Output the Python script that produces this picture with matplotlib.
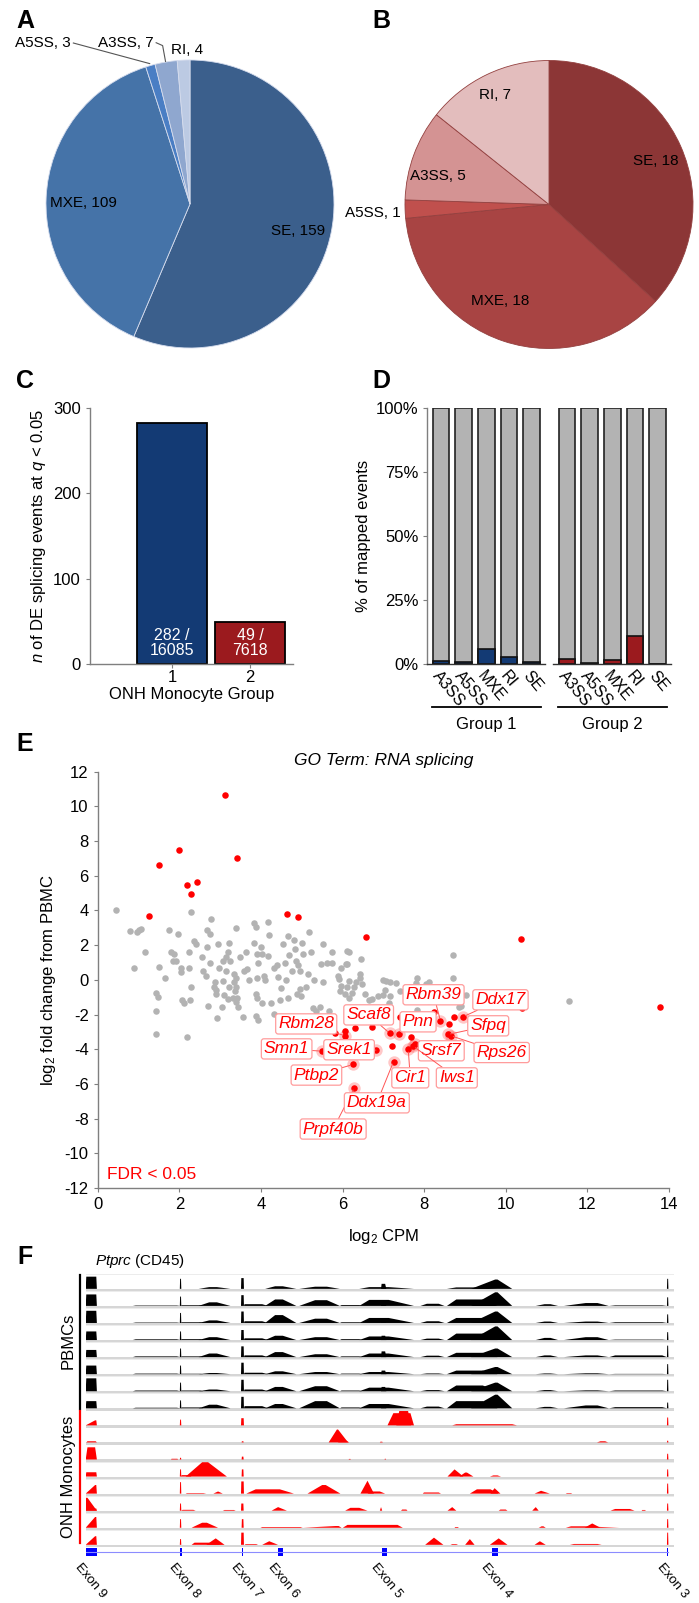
import matplotlib
matplotlib.use("Agg")
import matplotlib.pyplot as plt
from matplotlib.patches import Rectangle

plt.rcParams['font.family'] = ['Liberation Sans', 'DejaVu Sans']
plt.rcParams['mathtext.fontset'] = 'custom'
plt.rcParams['mathtext.rm'] = 'Liberation Sans'
plt.rcParams['mathtext.it'] = 'Liberation Sans:italic'
plt.rcParams['axes.unicode_minus'] = False

# ---- A / B : pie charts of event types ----
event_types = ['SE', 'MXE', 'A5SS', 'A3SS', 'RI']
pie_a_counts = [159, 109, 3, 7, 4]
pie_b_counts = [18, 18, 1, 5, 7]
pie_a_colors = ['#3b5f8c', '#4573a8', '#4a7ec4', '#8fa7cf', '#bccae3']
pie_b_colors = ['#8c3636', '#a84443', '#c0504d', '#d49393', '#e3bdbd']

# ---- C : DE splicing events per group ----
groups = [1, 2]
de_counts = [282, 49]
de_totals = [16085, 7618]
group_colors = ['#133a74', '#9b1a1e']

# ---- D : % of mapped events ----
d_types = ['A3SS', 'A5SS', 'MXE', 'RI', 'SE']
d_group1 = [1.4, 0.9, 6.1, 2.9, 0.9]
d_group2 = [2.1, 0.7, 1.7, 11.1, 0.2]

# ---- E : GO term RNA splicing scatter ----
gray_pts = [
    (0.45, 4.03), (0.80, 2.79), (0.97, 2.73), (1.01, 2.86), (1.05, 2.96), (1.15, 1.58), (0.89, 0.71),
    (1.49, 0.75), (1.64, 0.10), (1.74, 2.90), (1.97, 2.67), (1.80, 1.58), (1.86, 1.48), (1.84, 1.10),
    (1.92, 1.06), (2.04, 0.71), (2.04, 0.48), (2.24, 0.71), (2.28, 3.94), (1.43, -0.77), (1.47, -0.96),
    (1.42, -1.79), (1.43, -3.13), (2.20, -3.27), (2.06, -1.17), (2.12, -1.31), (2.27, -1.17), (2.29, -0.44),
    (2.37, 2.25), (2.41, 2.06), (2.24, 1.58), (2.55, 1.33), (2.59, 0.52), (2.65, 0.23), (2.78, 3.50),
    (2.69, 2.88), (2.76, 2.67), (2.69, 1.90), (2.96, 2.06), (2.76, 0.96), (2.97, 0.71), (3.07, 1.10),
    (3.22, 2.15), (3.19, 1.63), (3.14, 1.33), (3.23, 1.10), (3.15, 0.52), (2.88, -0.15), (2.85, -0.44),
    (2.89, -0.83), (2.91, -0.60), (2.71, -1.50), (2.93, -2.21), (3.08, -0.06), (3.10, -0.88), (3.22, -0.40),
    (3.05, -1.59), (3.20, -1.11), (3.35, 0.33), (3.38, 0.10), (3.34, -0.15), (3.39, -0.40), (3.36, -0.67),
    (3.32, -1.02), (3.42, -1.02), (3.38, -1.25), (3.44, -1.56), (3.40, 2.98), (3.49, 1.33), (3.64, 1.63),
    (3.58, 0.52), (3.66, 0.61), (3.57, -2.17), (3.70, -0.02), (3.82, 3.30), (3.88, 3.07), (3.82, 2.11),
    (3.91, 1.48), (3.93, 1.00), (3.91, 0.13), (3.87, -0.79), (3.91, -1.02), (3.87, -2.09), (3.93, -2.29),
    (3.99, 1.90), (4.03, 1.48), (4.08, 0.23), (4.11, -0.02), (4.03, -1.31), (4.17, 3.36), (4.21, 2.59),
    (4.17, 1.38), (4.25, -1.36), (4.31, -1.98), (4.31, 0.67), (4.39, 0.86), (4.43, 0.17), (4.49, -0.48),
    (4.47, -1.17), (4.53, 2.06), (4.59, 1.00), (4.67, 2.54), (4.69, 1.44), (4.62, -0.02), (4.67, -1.02),
    (4.80, 2.29), (4.84, 1.77), (4.76, 0.52), (4.86, 1.10), (4.92, 0.86), (4.96, 0.52), (5.00, 2.15),
    (5.02, 1.48), (4.96, -0.54), (4.99, -0.92), (4.88, -0.83), (5.10, -0.44), (5.18, 2.73), (5.23, 1.63),
    (5.15, 0.33), (5.31, -0.02), (5.36, -1.79), (5.28, -1.65), (5.45, -1.59), (5.53, 2.06), (5.47, 0.94),
    (5.61, 1.00), (5.53, -0.15), (5.67, -1.79), (5.73, 1.58), (5.75, 1.00), (5.89, 0.23), (5.91, 0.04),
    (5.95, -0.35), (5.93, -0.63), (5.96, 0.71), (6.09, 0.90), (6.12, 1.67), (6.07, -0.83), (6.15, 1.63),
    (6.11, 0.94), (6.45, 1.23), (6.15, -0.06), (6.11, -0.44), (6.27, -0.40), (6.43, 0.33), (6.42, 0.10),
    (6.34, -0.10), (6.48, -0.25), (6.23, -0.73), (6.17, -1.02), (6.56, -0.83), (6.64, -1.17), (6.72, -1.11),
    (6.87, -0.92), (6.99, -0.86), (6.99, -0.02), (7.07, -0.06), (7.16, -0.10), (7.31, -0.21), (7.04, -0.60),
    (7.16, -0.92), (7.15, -1.31), (7.42, -0.63), (7.83, 0.13), (7.81, -0.21), (7.93, -0.40), (8.05, -0.25),
    (8.12, -0.15), (7.83, -1.71), (8.12, -1.21), (8.70, 1.44), (8.70, 0.10), (8.86, -1.59), (8.91, -1.52),
    (9.03, -0.86), (11.54, -1.21),
]
red_pts = [
    (3.12, 10.65), (1.99, 7.49), (1.50, 6.63), (3.41, 7.01), (2.20, 5.48), (2.44, 5.65), (2.29, 4.94),
    (1.25, 3.69), (4.64, 3.82), (4.91, 3.65), (6.58, 2.48), (10.38, 2.38), (13.77, -1.59), (5.81, -3.07),
    (6.05, -2.94), (6.30, -2.79), (6.71, -2.71), (7.42, -2.13), (7.20, -3.82), (7.67, -3.30), (8.23, -1.88),
    (8.60, -2.52), (8.72, -2.17), (10.40, -1.60),
]
gene_names = ['Rbm28', 'Smn1', 'Srek1', 'Ptbp2', 'Prpf40b', 'Ddx19a', 'Scaf8', 'Pnn',
              'Cir1', 'Srsf7', 'Iws1', 'Rbm39', 'Ddx17', 'Sfpq', 'Rps26']
gene_x = [6.07, 5.49, 6.82, 6.26, 6.29, 7.25, 7.16, 7.39, 7.61, 7.78, 7.73, 8.40, 8.95, 8.58, 8.65]
gene_y = [-3.23, -4.11, -4.05, -4.88, -6.21, -4.71, -3.09, -3.13, -4.00, -3.72, -3.82, -2.36, -2.13, -3.15, -3.22]
label_x = [5.11, 4.63, 6.16, 5.36, 5.77, 6.84, 6.64, 7.85, 7.66, 8.42, 8.80, 8.23, 9.87, 9.57, 9.90]
label_y = [-2.54, -3.98, -4.03, -5.49, -8.60, -7.09, -2.02, -2.42, -5.65, -4.09, -5.65, -0.86, -1.15, -2.65, -4.19]

# ---- F : Ptprc coverage tracks (x in % of locus, heights as fraction of track) ----
exon_names = ['Exon 9', 'Exon 8', 'Exon 7', 'Exon 6', 'Exon 5', 'Exon 4', 'Exon 3']
exon_start = [0.0, 16.0, 26.5, 32.7, 50.3, 69.0, 98.8]
exon_end = [1.9, 16.3, 26.8, 33.6, 51.2, 70.0, 99.0]

pbmc_shapes = [
    (0.0, 0.1, 1.8, 1.9), (8.0, 8.5, 15.5, 16.1), (16.0, 16.05, 16.2, 16.25), (16.2, 16.3, 19.5, 20.0),
    (19.2, 21.0, 22.3, 24.6), (26.4, 26.45, 26.85, 26.9), (26.9, 27.0, 30.0, 31.0), (30.5, 32.2, 33.5, 35.8),
    (36.3, 39.0, 41.0, 43.2), (43.2, 43.5, 46.5, 47.0), (46.5, 48.2, 51.5, 55.8), (50.2, 50.3, 50.9, 51.1),
    (56.9, 58.0, 60.0, 61.0), (61.4, 63.0, 67.5, 70.0), (65.5, 69.6, 70.0, 72.5), (76.5, 78.0, 79.0, 80.3),
    (81.3, 85.0, 87.0, 88.9), (89.0, 90.0, 98.0, 98.8), (98.8, 98.85, 99.0, 99.05),
]
pbmc_heights = [
    [.85, 0, .70, 0, .12, .75, 0, .18, .15, 0, .12, .35, 0, .10, .65, 0, 0, 0, .70],
    [.80, .03, .65, .05, .25, .75, .12, .45, .40, .06, .42, .30, .15, .45, .95, .12, .20, .04, .60],
    [.85, .03, .70, .05, .18, .80, .12, .55, .30, .05, .35, .30, .12, .35, .80, .10, .10, .05, .60],
    [.60, .05, .60, .06, .20, .70, .12, .30, .20, .06, .25, .30, .10, .45, .95, .15, .20, .03, .55],
    [.50, .05, .60, .05, .25, .75, .12, .35, .20, .05, .25, .40, .10, .30, .60, .12, .12, .12, .80],
    [.60, .04, .60, .03, .08, .80, .10, .20, .15, .04, .15, .25, .05, .25, .50, .05, .06, .02, .70],
    [.90, .05, .60, .05, .12, .80, .12, .30, .35, .05, .25, .30, .08, .40, .60, .08, .06, .05, .80],
    [.50, .04, .55, .06, .25, .80, .15, .30, .50, .06, .30, .20, .12, .50, .95, .10, .20, .08, .40],
]
mono_tracks = [
    [(0.0, 1.6, 1.8, 1.9, .35), (16.0, 16.05, 16.2, 16.25, .40), (26.4, 26.45, 26.85, 26.9, .50),
     (51.3, 52.3, 55.2, 55.8, .85), (52.8, 53.3, 54.8, 55.3, 1.0), (62.3, 63.0, 72.5, 73.3, .08),
     (98.8, 98.85, 99.0, 99.05, .55)],
    [(0.1, 0.3, 1.7, 1.9, .08), (26.5, 26.55, 26.8, 26.85, .08), (41.3, 42.7, 42.9, 44.6, .90),
     (42.9, 43.3, 44.0, 44.8, .20), (50.0, 50.1, 50.4, 50.5, .05), (86.9, 87.5, 88.3, 88.8, .08),
     (98.8, 98.85, 99.0, 99.05, .12)],
    [(0.0, 0.3, 1.6, 1.9, .85), (14.5, 14.6, 15.6, 15.7, .05), (16.0, 16.05, 16.2, 16.25, .12),
     (26.5, 26.55, 26.8, 26.85, .20), (44.7, 44.75, 45.0, 45.05, .04), (50.8, 50.85, 51.0, 51.05, .05),
     (98.8, 98.85, 99.0, 99.05, .40)],
    [(0.0, 0.1, 1.8, 1.9, .30), (16.0, 16.05, 16.2, 16.25, .50), (16.2, 16.3, 17.5, 18.0, .10),
     (17.0, 19.8, 20.8, 24.0, 1.0), (26.5, 26.55, 26.8, 26.85, .50), (61.5, 62.7, 62.7, 64.2, .50),
     (63.5, 64.5, 64.8, 65.9, .28), (68.7, 69.3, 70.0, 70.6, .08), (98.8, 98.85, 99.0, 99.05, .50)],
    [(0.0, 1.6, 1.8, 1.9, .60), (16.0, 16.05, 16.2, 16.25, .80), (17.0, 17.2, 20.0, 20.5, .04),
     (21.7, 22.5, 22.5, 23.3, .15), (26.4, 26.45, 26.85, 26.9, .85), (27.3, 28.9, 33.0, 35.4, .30),
     (37.7, 40.2, 40.8, 43.3, .60), (46.7, 47.9, 47.9, 49.0, .90), (47.9, 48.5, 50.0, 50.9, .15),
     (57.3, 57.5, 60.0, 60.4, .08), (65.3, 66.5, 68.8, 70.2, .30), (68.8, 69.5, 69.5, 70.5, .38),
     (76.3, 77.4, 77.4, 78.9, .20), (81.6, 81.8, 82.5, 82.7, .04), (98.8, 98.85, 99.0, 99.05, .70)],
    [(0.0, 0.05, 0.3, 1.9, .90), (0.0, 0.1, 1.8, 1.9, .15), (16.0, 16.05, 16.2, 16.25, .50),
     (16.2, 16.5, 18.3, 18.7, .06), (23.3, 23.6, 25.2, 25.5, .05), (26.4, 26.45, 26.8, 26.85, .50),
     (31.6, 32.7, 32.7, 34.2, .25), (44.1, 45.0, 46.5, 47.9, .20), (50.0, 50.2, 50.2, 50.4, .25),
     (53.6, 53.8, 54.5, 54.7, .08), (61.5, 62.3, 62.3, 63.0, .25), (70.2, 70.5, 71.4, 71.7, .08),
     (75.9, 76.5, 76.5, 77.0, .25), (89.2, 90.0, 92.5, 93.3, .12), (94.5, 94.6, 95.1, 95.2, .05),
     (98.8, 98.85, 99.0, 99.05, .50)],
    [(0.0, 1.6, 1.8, 1.9, .75), (16.0, 16.05, 16.2, 16.25, .60), (18.0, 19.8, 20.6, 22.5, .35),
     (26.5, 26.55, 26.8, 26.85, .60), (29.7, 30.0, 36.5, 36.9, .05), (36.9, 42.5, 43.0, 43.5, .12),
     (43.7, 44.5, 53.0, 53.9, .20), (62.7, 62.8, 63.3, 63.4, .05), (77.0, 77.5, 77.8, 78.2, .10),
     (81.6, 82.5, 85.0, 90.7, .10), (84.8, 86.1, 86.1, 87.5, .30), (98.8, 98.85, 99.0, 99.05, .60)],
    [(0.0, 1.6, 1.8, 1.9, .60), (16.0, 16.05, 16.2, 16.25, .40), (18.0, 18.5, 21.0, 23.6, .15),
     (20.5, 22.1, 22.1, 23.6, .45), (26.4, 26.45, 26.85, 26.9, .85), (27.0, 27.2, 29.0, 29.3, .05),
     (30.0, 31.2, 31.2, 32.7, .25), (57.7, 59.2, 59.2, 60.8, .50), (62.0, 62.3, 63.0, 63.3, .05),
     (64.5, 65.3, 65.3, 66.1, .40), (68.7, 70.2, 70.2, 71.7, .45), (76.3, 77.2, 77.2, 78.2, .25),
     (82.3, 83.0, 87.0, 87.7, .06), (98.8, 98.85, 99.0, 99.05, .85)],
]

W, H = 699, 1603
fig = plt.figure(figsize=(W / 100, H / 100), dpi=100)


def px_axes(x0, y0, x1, y1):
    return fig.add_axes([x0 / W, 1 - y1 / H, (x1 - x0) / W, (y1 - y0) / H])


def panel_label(x, y, s):
    fig.text(x / W, 1 - y / H, s, fontsize=18, fontweight='bold', ha='left', va='top')


def gg_axes(ax):
    for s in ['top', 'right']:
        ax.spines[s].set_visible(False)
    for s in ['left', 'bottom']:
        ax.spines[s].set_color('#7f7f7f')
        ax.spines[s].set_linewidth(1.0)
    ax.tick_params(colors='#7f7f7f', labelcolor='black', labelsize=12, length=3)


for lab, x, y in [('A', 16, 9), ('B', 372, 9), ('C', 16, 369), ('D', 372, 369), ('E', 16, 732), ('F', 17, 1245)]:
    panel_label(x, y, lab)

# A
r = 187.2
ax = px_axes(190 - r, 204 - r, 190 + r, 204 + r)
ax.pie(pie_a_counts, colors=pie_a_colors, startangle=90, counterclock=False, radius=1,
       wedgeprops=dict(edgecolor='#d5dced', linewidth=0.6))
ax.set_xlim(-1.3, 1.3)
ax.set_ylim(-1.3, 1.3)
ax.set_aspect('equal')
ax.axis('off')
ax.text(0.75, -0.19, 'SE, 159', fontsize=11, ha='center', va='center')
ax.text(-0.74, 0.01, 'MXE, 109', fontsize=11, ha='center', va='center')
ax.text(-0.83, 1.12, 'A5SS, 3', fontsize=11, ha='right', va='center')
ax.text(-0.25, 1.12, 'A3SS, 7', fontsize=11, ha='right', va='center')
ax.text(-0.13, 1.07, 'RI, 4', fontsize=11, ha='left', va='center')
ax.plot([-0.81, -0.28], [1.118, 0.975], color='#555555', lw=0.8)
ax.plot([-0.235, -0.19, -0.17], [1.12, 1.10, 0.99], color='#555555', lw=0.8)

# B
ax = px_axes(549 - r, 204.5 - r, 549 + r, 204.5 + r)
ax.pie(pie_b_counts, colors=pie_b_colors, startangle=90, counterclock=False, radius=1,
       wedgeprops=dict(edgecolor='#93403f', linewidth=0.6))
ax.set_xlim(-1.3, 1.3)
ax.set_ylim(-1.3, 1.3)
ax.set_aspect('equal')
ax.axis('off')
ax.text(0.74, 0.30, 'SE, 18', fontsize=11, ha='center', va='center')
ax.text(-0.34, -0.67, 'MXE, 18', fontsize=11, ha='center', va='center')
ax.text(-0.375, 0.76, 'RI, 7', fontsize=11, ha='center', va='center')
ax.text(-0.77, 0.20, 'A3SS, 5', fontsize=11, ha='center', va='center')
ax.text(-1.03, -0.06, 'A5SS, 1', fontsize=11, ha='right', va='center')

# C
ax = px_axes(90, 408, 293, 664)
ax.bar(groups, de_counts, width=0.9, color=group_colors, edgecolor='black', linewidth=1.3)
for g, c, t in zip(groups, de_counts, de_totals):
    ax.text(g, 25, f'{c} /\n{t}', color='white', fontsize=11.5, ha='center', va='center', linespacing=1.0)
ax.set_xlim(-0.05, 2.55)
ax.set_ylim(0, 300)
ax.set_xticks(groups)
ax.set_yticks([0, 100, 200, 300])
gg_axes(ax)
ax.tick_params(axis='x', pad=1)
ax.set_xlabel('ONH Monocyte Group', fontsize=12, labelpad=2)
ax.set_ylabel(r'$\mathit{n}$ of DE splicing events at $\mathit{q}$ < 0.05', fontsize=12, labelpad=4)

# D
d_pos = list(range(len(d_types)))
for k, (vals, col, x0) in enumerate([(d_group1, group_colors[0], 427.3), (d_group2, group_colors[1], 553.3)]):
    ax = px_axes(x0, 408, x0 + 118, 664.3)
    ax.bar(d_pos, [100] * len(d_pos), width=0.735, color='#b3b3b3', edgecolor='#222222', linewidth=1.2)
    ax.bar(d_pos, vals, width=0.735, color=col, edgecolor='#111111', linewidth=1.2)
    ax.set_xlim(-0.6, 4.6)
    ax.set_ylim(0, 100)
    ax.set_xticks(d_pos)
    ax.set_xticklabels(d_types, rotation=-50, ha='left', va='top', rotation_mode='anchor')
    gg_axes(ax)
    ax.tick_params(axis='x', length=0, pad=3, labelsize=11.5)
    ax.spines['bottom'].set_color('#333333')
    if k == 0:
        ax.set_yticks([0, 25, 50, 75, 100])
        ax.set_yticklabels(['0%', '25%', '50%', '75%', '100%'])
        ax.set_ylabel('% of mapped events', fontsize=12, labelpad=3)
    else:
        ax.spines['left'].set_visible(False)
        ax.set_yticks([])
    ax.plot([-0.4, 4.4], [-16.5, -16.5], color='black', lw=1.3, clip_on=False)
    ax.text(2, -23.5, f'Group {k + 1}', fontsize=12, ha='center', va='center')

# E
axe = px_axes(97.7, 771.7, 669, 1188)
axe.scatter([p[0] for p in gray_pts], [p[1] for p in gray_pts], s=22, color='#b3b3b3', lw=0, zorder=2)
axe.scatter([p[0] for p in red_pts], [p[1] for p in red_pts], s=22, color='#ff0000', lw=0, zorder=3)
axe.scatter(gene_x, gene_y, s=80, color='#ff0000', alpha=0.22, lw=0, zorder=3)
axe.scatter(gene_x, gene_y, s=22, color='#ff0000', lw=0, zorder=3)
for name, gx, gy, lx, ly in zip(gene_names, gene_x, gene_y, label_x, label_y):
    axe.annotate(name, xy=(gx, gy), xytext=(lx, ly), ha='center', va='center', fontsize=12.5,
                 style='italic', color='#ff0000', zorder=5,
                 bbox=dict(boxstyle='round,pad=0.15,rounding_size=0.15', fc='white', ec='#ff9c9c', lw=0.9),
                 arrowprops=dict(arrowstyle='-', color='#ff5555', lw=0.7, shrinkA=0, shrinkB=2))
axe.set_xlim(0, 14)
axe.set_ylim(-12, 12)
axe.set_xticks(range(0, 15, 2))
axe.set_yticks(range(-12, 13, 2))
gg_axes(axe)
axe.set_xlabel(r'log$_2$ CPM', fontsize=12, labelpad=11)
axe.set_ylabel(r'log$_2$ fold change from PBMC', fontsize=12, labelpad=5)
axe.set_title('GO Term: RNA splicing', fontsize=12.5, style='italic', pad=5)
axe.text(0.23, -11.25, 'FDR < 0.05', color='#ff0000', fontsize=12.5, ha='left', va='center')

# F
axf = px_axes(85.7, 1274, 674, 1560)
axf.set_xlim(0, 100)
axf.set_ylim(-0.76, 16)
axf.axis('off')
all_tracks = []
for row in pbmc_heights:
    all_tracks.append(('black', [s + (h,) for s, h in zip(pbmc_shapes, row) if h > 0]))
for shapes in mono_tracks:
    all_tracks.append(('#ff0000', shapes))
for i, (col, shapes) in enumerate(all_tracks):
    y0 = 15 - i
    axf.add_patch(Rectangle((0, y0), 100, 0.13, color='#d6d6d6', lw=0))
    axf.add_patch(Rectangle((0, y0 + 0.95), 100, 0.05, color='#ececec', lw=0))
    base = y0 + 0.13
    for x0, xa, xb, x1, h in shapes:
        axf.fill([x0, xa, xb, x1], [base, base + 0.84 * h, base + 0.84 * h, base], color=col, lw=0)
axf.plot([-0.97, -0.97], [15.93, 8.08], color='black', lw=1.6, clip_on=False)
axf.plot([-0.97, -0.97], [7.96, 0.23], color='#ff0000', lw=1.6, clip_on=False)
axf.text(-3.0, 12.1, 'PBMCs', rotation=90, fontsize=12, ha='center', va='center')
axf.text(-3.0, 4.1, 'ONH Monocytes', rotation=90, fontsize=12, ha='center', va='center')
axf.text(1.6, 16.75, r'$\mathit{Ptprc}$ (CD45)', fontsize=11, ha='left', va='center')
axf.plot([0, 99], [-0.29, -0.29], color='#8c8cff', lw=0.8)
for name, s, e in zip(exon_names, exon_start, exon_end):
    axf.add_patch(Rectangle((s, -0.5), e - s, 0.42, color='#0000ff', lw=0))
    axf.text(s - 0.6, -0.82, name, rotation=-50, rotation_mode='anchor', ha='left', va='top', fontsize=9.5)

fig.savefig('out.png', dpi=100)
